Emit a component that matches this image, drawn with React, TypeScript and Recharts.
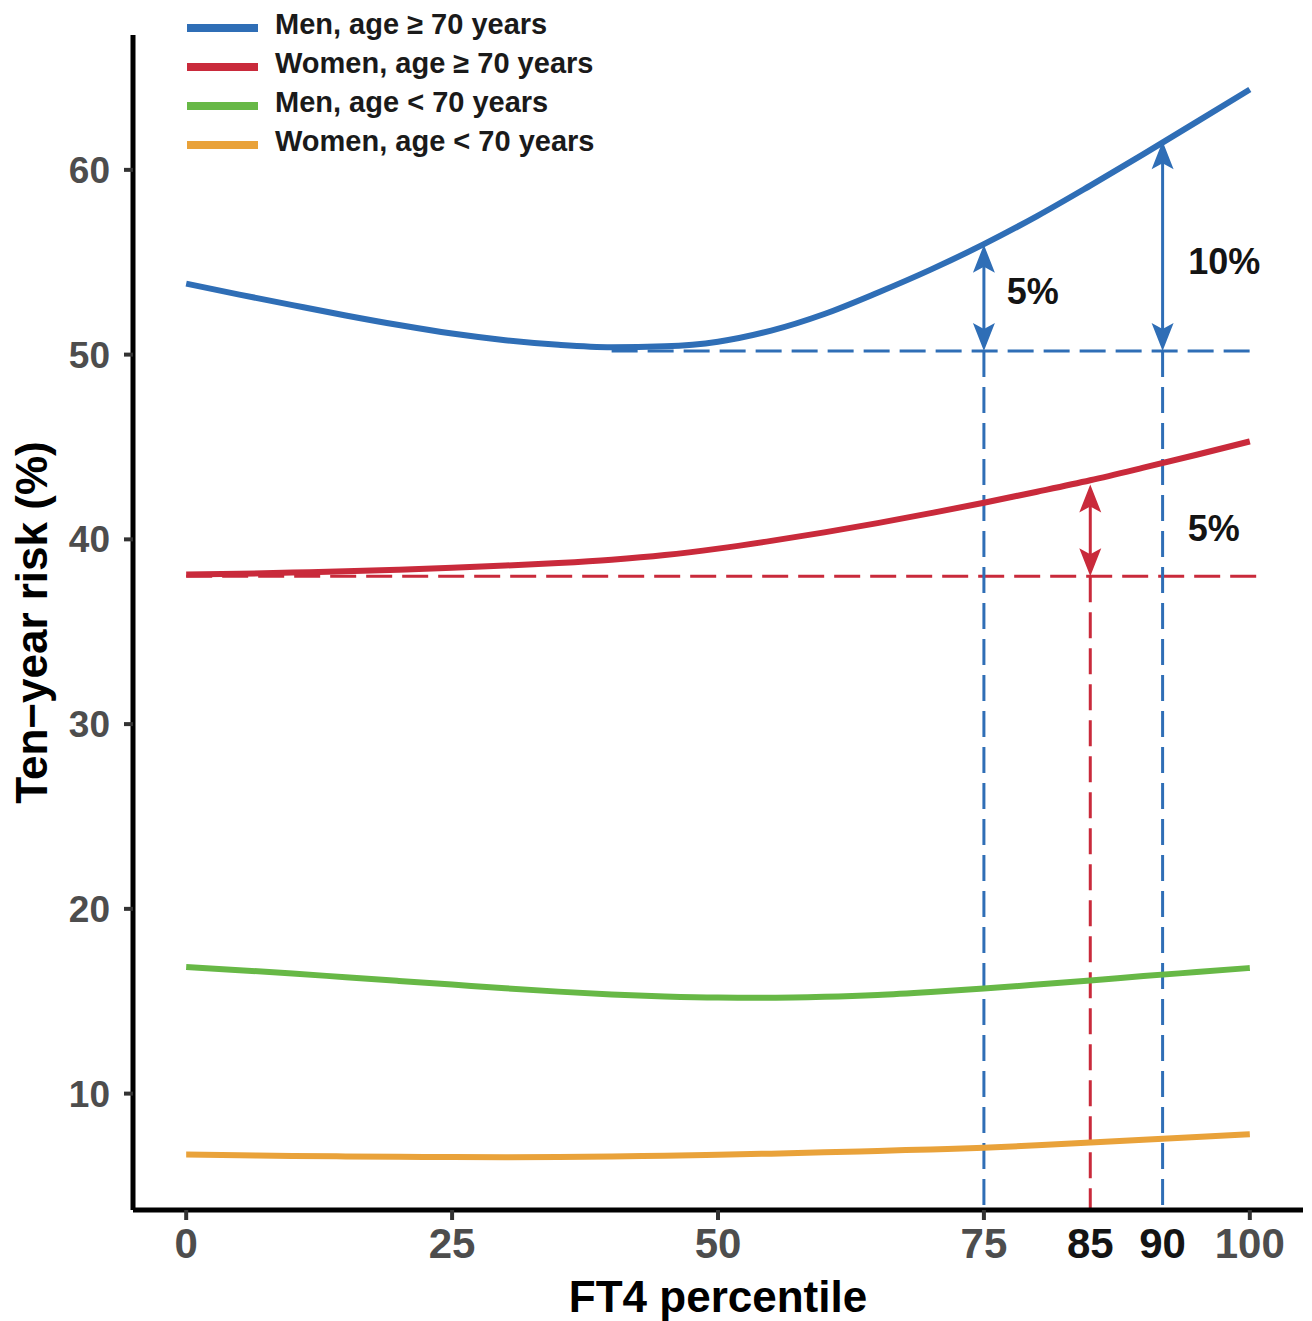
import React from "react";
import {
  Legend,
  Line,
  LineChart,
  ReferenceDot,
  ReferenceLine,
  XAxis,
  YAxis,
} from "recharts";

const percentiles = [0, 5, 10, 15, 20, 25, 30, 35, 40, 45, 50, 55, 60, 65, 70, 75, 80, 85, 90, 95, 100];
const menOld = [53.84, 53.25, 52.68, 52.12, 51.6, 51.14, 50.78, 50.53, 50.4, 50.45, 50.7, 51.3, 52.2, 53.35, 54.6, 55.98, 57.5, 59.15, 60.85, 62.6, 64.35];
const womenOld = [38.1, 38.14, 38.2, 38.27, 38.36, 38.46, 38.58, 38.72, 38.9, 39.15, 39.5, 39.92, 40.38, 40.88, 41.42, 41.98, 42.58, 43.2, 43.88, 44.58, 45.3];
const menYoung = [16.85, 16.68, 16.5, 16.3, 16.1, 15.9, 15.7, 15.52, 15.37, 15.26, 15.2, 15.19, 15.24, 15.34, 15.5, 15.69, 15.9, 16.12, 16.36, 16.58, 16.8];
const womenYoung = [6.7, 6.66, 6.62, 6.6, 6.58, 6.57, 6.56, 6.57, 6.6, 6.64, 6.69, 6.75, 6.82, 6.9, 6.98, 7.07, 7.2, 7.35, 7.5, 7.65, 7.8];

const series = [
  { key: "menOld", name: "Men, age \u2265 70 years", color: "#2f6eb6" },
  { key: "womenOld", name: "Women, age \u2265 70 years", color: "#c92a3b" },
  { key: "menYoung", name: "Men, age < 70 years", color: "#67b846" },
  { key: "womenYoung", name: "Women, age < 70 years", color: "#e9a23a" },
];

// x ticks; the "90" marker sits at ~92 on the drawn scale in the original
const xTicks = [0, 25, 50, 75, 85, 91.8, 100];
const xTickLabels = ["0", "25", "50", "75", "85", "90", "100"];
const markerTicks = [85, 91.8];
const yTicks = [10, 20, 30, 40, 50, 60];

const menBase = 50.2;
const womenBase = 38.0;
const menArrows = [
  { x: 75, top: 55.95 },
  { x: 91.8, top: 61.55 },
];
const womenArrows = [{ x: 85, top: 42.97 }];
const notes = [
  { x: 79.6, y: 53.46, text: "5%" },
  { x: 97.6, y: 55.05, text: "10%" },
  { x: 96.6, y: 40.6, text: "5%" },
];

const X_DOMAIN: [number, number] = [-5, 105];
const Y_DOMAIN: [number, number] = [3.7, 67.3];

const BLUE = "#2f6eb6";
const RED = "#c92a3b";
const FONT = "'Liberation Sans', Arial, Helvetica, sans-serif";

const data = percentiles.map((p, i) => ({
  p,
  menOld: menOld[i],
  womenOld: womenOld[i],
  menYoung: menYoung[i],
  womenYoung: womenYoung[i],
}));

const Arrow = (props: any) => {
  const { x1, y1, x2, y2, stroke } = props;
  const x = (x1 + x2) / 2;
  const top = Math.min(y1, y2);
  const bot = Math.max(y1, y2);
  const len = 28;
  const half = 11;
  const notch = 22;
  return (
    <g>
      <line x1={x} x2={x} y1={top + 10} y2={bot - 10} stroke={stroke} strokeWidth={3} />
      <polygon
        points={`${x},${top} ${x - half},${top + len} ${x},${top + notch} ${x + half},${top + len}`}
        fill={stroke}
      />
      <polygon
        points={`${x},${bot} ${x - half},${bot - len} ${x},${bot - notch} ${x + half},${bot - len}`}
        fill={stroke}
      />
    </g>
  );
};

const XTick = (props: any) => {
  const { x, y, payload } = props;
  const i = xTicks.indexOf(payload.value);
  const marker = markerTicks.includes(payload.value);
  return (
    <g>
      {!marker && (
        <line x1={x} x2={x} y1={y - 18} y2={y - 8} stroke="#333" strokeWidth={4} />
      )}
      <text
        x={x}
        y={y}
        dy="0.71em"
        textAnchor="middle"
        fontFamily={FONT}
        fontSize={42}
        fontWeight="bold"
        fill={marker ? "#141414" : "#4d4d4d"}
      >
        {xTickLabels[i]}
      </text>
    </g>
  );
};

const YTitle = (props: any) => {
  const vb = props.viewBox;
  return (
    <text
      transform={`translate(${vb.x + 47}, ${vb.y + vb.height / 2}) rotate(-90)`}
      textAnchor="middle"
      fontFamily={FONT}
      fontSize={44}
      fontWeight="bold"
      fill="#000"
    >
      Ten−year risk (%)
    </text>
  );
};

const LegendBox = () => (
  <div style={{ fontFamily: FONT }}>
    {series.map((s) => (
      <div key={s.key} style={{ display: "flex", alignItems: "center", height: 39 }}>
        <div style={{ width: 71, height: 8, background: s.color }} />
        <span
          style={{
            marginLeft: 17,
            fontSize: 29,
            fontWeight: "bold",
            color: "#1a1a1a",
            whiteSpace: "nowrap",
            position: "relative",
            top: -3,
          }}
        >
          {s.name}
        </span>
      </div>
    ))}
  </div>
);

function RiskChart() {
  return (
    <LineChart
      width={1312}
      height={1321}
      data={data}
      margin={{ top: 35, right: 9, left: 0, bottom: 0 }}
      style={{ fontFamily: FONT }}
    >
      <XAxis
        dataKey="p"
        type="number"
        domain={X_DOMAIN}
        ticks={xTicks}
        interval={0}
        height={111}
        tickSize={10}
        tickMargin={8}
        tickLine={false}
        tick={<XTick />}
        axisLine={{ stroke: "#000", strokeWidth: 5 }}
        allowDataOverflow
        label={{
          value: "FT4 percentile",
          position: "insideBottom",
          offset: 9,
          fontSize: 44,
          fontWeight: "bold",
          fill: "#000",
        }}
      />
      <YAxis
        type="number"
        domain={Y_DOMAIN}
        ticks={yTicks}
        width={133}
        tickSize={9}
        tickMargin={14}
        tickLine={{ stroke: "#333", strokeWidth: 4 }}
        tick={{ fill: "#4d4d4d", fontSize: 37, fontWeight: "bold" }}
        axisLine={{ stroke: "#000", strokeWidth: 5 }}
        allowDataOverflow
        label={<YTitle />}
      />
      <Legend
        layout="vertical"
        align="center"
        verticalAlign="middle"
        content={<LegendBox />}
        wrapperStyle={{ left: 187, top: 8, width: "auto", height: "auto" }}
      />

      <ReferenceLine
        segment={[{ x: 40, y: menBase }, { x: 100, y: menBase }]}
        stroke={BLUE}
        strokeWidth={3}
        strokeDasharray="26 10"
      />
      <ReferenceLine
        segment={[{ x: 0, y: womenBase }, { x: 101, y: womenBase }]}
        stroke={RED}
        strokeWidth={3}
        strokeDasharray="26 10"
      />
      {menArrows.map((a) => (
        <ReferenceLine
          key={`mv${a.x}`}
          segment={[{ x: a.x, y: menBase }, { x: a.x, y: Y_DOMAIN[0] }]}
          stroke={BLUE}
          strokeWidth={3}
          strokeDasharray="26 10"
        />
      ))}
      {womenArrows.map((a) => (
        <ReferenceLine
          key={`wv${a.x}`}
          segment={[{ x: a.x, y: womenBase }, { x: a.x, y: Y_DOMAIN[0] }]}
          stroke={RED}
          strokeWidth={3}
          strokeDasharray="26 10"
        />
      ))}

      {series.map((s) => (
        <Line
          key={s.key}
          dataKey={s.key}
          name={s.name}
          type="monotone"
          stroke={s.color}
          strokeWidth={6}
          strokeLinecap="butt"
          dot={false}
          activeDot={false}
          isAnimationActive={false}
        />
      ))}

      {menArrows.map((a) => (
        <ReferenceLine
          key={`ma${a.x}`}
          segment={[{ x: a.x, y: menBase }, { x: a.x, y: a.top }]}
          stroke={BLUE}
          shape={<Arrow />}
        />
      ))}
      {womenArrows.map((a) => (
        <ReferenceLine
          key={`wa${a.x}`}
          segment={[{ x: a.x, y: womenBase }, { x: a.x, y: a.top }]}
          stroke={RED}
          shape={<Arrow />}
        />
      ))}
      {notes.map((n, i) => (
        <ReferenceDot
          key={`n${i}`}
          x={n.x}
          y={n.y}
          r={0}
          shape={(p: any) => (
            <text
              x={p.cx}
              y={p.cy}
              dy="0.36em"
              textAnchor="middle"
              fontFamily={FONT}
              fontSize={36}
              fontWeight="bold"
              fill="#141414"
            >
              {n.text}
            </text>
          )}
        />
      ))}
    </LineChart>
  );
}

export default function App() {
  return (
    <div style={{ width: 1312, height: 1321, background: "#fff" }}>
      <style>{`body{margin:0;background:#fff}`}</style>
      <RiskChart />
    </div>
  );
}
